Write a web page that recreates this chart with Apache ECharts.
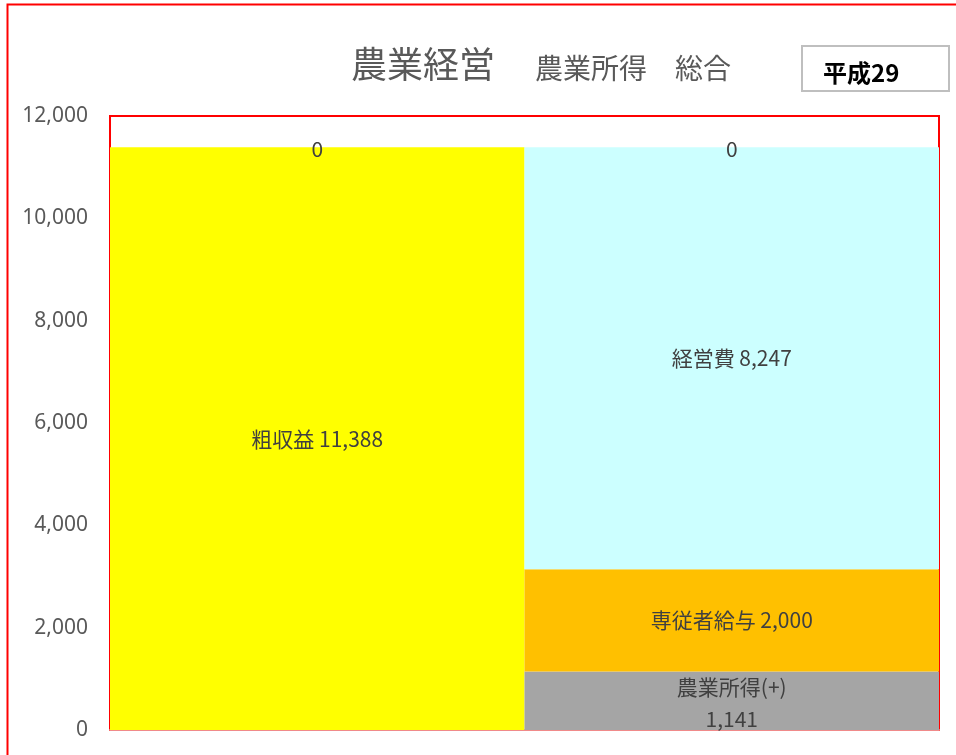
<!DOCTYPE html>
<html>
<head>
<meta charset="utf-8">
<style>
  html, body { margin: 0; padding: 0; background: #fff; }
  #main { width: 956px; height: 755px; }
</style>
<script src="https://cdn.jsdelivr.net/npm/echarts@6/dist/echarts.min.js"></script>
</head>
<body>
<div id="main"></div>
<script>
  // データ
  var categories = ['収入', '支出'];
  var yTicks = [0, 2000, 4000, 6000, 8000, 10000, 12000];
  var segNames = ['粗収益', '農業所得(+)', '専従者給与', '経営費', '合計'];
  var grossIncome = [11388, '-'];
  var farmIncome = ['-', 1141];
  var salary = ['-', 2000];
  var expenses = ['-', 8247];
  var topZero = [0, 0];

  var labelFont = '"Noto Sans CJK JP", "Noto Sans", sans-serif';
  function fmt(v) { return Number(v).toLocaleString('en-US'); }

  var chart = echarts.init(document.getElementById('main'));
  chart.setOption({
    animation: false,
    backgroundColor: '#fff',
    title: [
      {
        text: '農業経営',
        left: 346, top: 41,
        textStyle: { fontSize: 36, fontWeight: 'normal', color: '#595959', fontFamily: labelFont }
      },
      {
        text: '農業所得　総合',
        left: 530, top: 49,
        textStyle: { fontSize: 28, fontWeight: 'normal', color: '#595959', fontFamily: labelFont }
      }
    ],
    graphic: [
      {
        type: 'rect', left: 5, top: 2, silent: true,
        shape: { width: 970, height: 800 },
        style: { fill: 'none', stroke: '#ff0000', lineWidth: 2 }
      },
      {
        type: 'group', left: 801, top: 45,
        children: [
          {
            type: 'rect',
            shape: { width: 147, height: 45 },
            style: { fill: '#fff', stroke: '#bfbfbf', lineWidth: 2 }
          },
          {
            type: 'text', x: 21, y: 15,
            style: { text: '平成29', fill: '#000', font: 'bold 24px "Noto Sans CJK JP", sans-serif' }
          }
        ]
      }
    ],
    grid: {
      left: 110, right: 17, top: 116, bottom: 25,
      show: true, borderColor: '#ff0000', borderWidth: 2, backgroundColor: 'transparent'
    },
    xAxis: {
      type: 'category',
      data: categories,
      axisLine: { show: true, lineStyle: { color: '#f08a8a', width: 2 } },
      axisTick: { show: false },
      axisLabel: { show: false }
    },
    yAxis: {
      type: 'value',
      min: yTicks[0], max: yTicks[yTicks.length - 1], interval: 2000,
      splitLine: { show: false },
      axisLine: { show: false },
      axisTick: { show: false },
      axisLabel: {
        margin: 22, color: '#595959', fontSize: 21,
        fontFamily: '"Noto Sans", sans-serif',
        formatter: function (v) { return fmt(v); }
      }
    },
    series: [
      {
        name: segNames[0], type: 'bar', stack: 'total', data: grossIncome,
        barCategoryGap: 0, barGap: 0,
        itemStyle: { color: '#ffff00' },
        label: {
          show: true, position: 'inside', color: '#404040', fontSize: 21, fontFamily: labelFont,
          formatter: function (p) { return p.seriesName + ' ' + fmt(p.value); }
        }
      },
      {
        name: segNames[1], type: 'bar', stack: 'total', data: farmIncome,
        barCategoryGap: 0, barGap: 0,
        itemStyle: { color: '#a5a5a5' },
        label: {
          show: true, position: 'inside', color: '#404040', fontSize: 21, fontFamily: labelFont,
          lineHeight: 32, offset: [0, 2],
          formatter: function (p) { return p.seriesName + '\n' + fmt(p.value); }
        }
      },
      {
        name: segNames[2], type: 'bar', stack: 'total', data: salary,
        barCategoryGap: 0, barGap: 0,
        itemStyle: { color: '#ffc000' },
        label: {
          show: true, position: 'inside', color: '#404040', fontSize: 21, fontFamily: labelFont,
          formatter: function (p) { return p.seriesName + ' ' + fmt(p.value); }
        }
      },
      {
        name: segNames[3], type: 'bar', stack: 'total', data: expenses,
        barCategoryGap: 0, barGap: 0,
        itemStyle: { color: '#ccffff' },
        label: {
          show: true, position: 'inside', color: '#404040', fontSize: 21, fontFamily: labelFont,
          formatter: function (p) { return p.seriesName + ' ' + fmt(p.value); }
        }
      },
      {
        name: segNames[4], type: 'bar', stack: 'total', data: topZero,
        barCategoryGap: 0, barGap: 0,
        itemStyle: { color: 'transparent' },
        label: {
          show: true, position: 'inside', color: '#404040', fontSize: 21, fontFamily: labelFont,
          offset: [0, 2],
          formatter: function (p) { return fmt(p.value); }
        }
      }
    ]
  });
</script>
</body>
</html>
